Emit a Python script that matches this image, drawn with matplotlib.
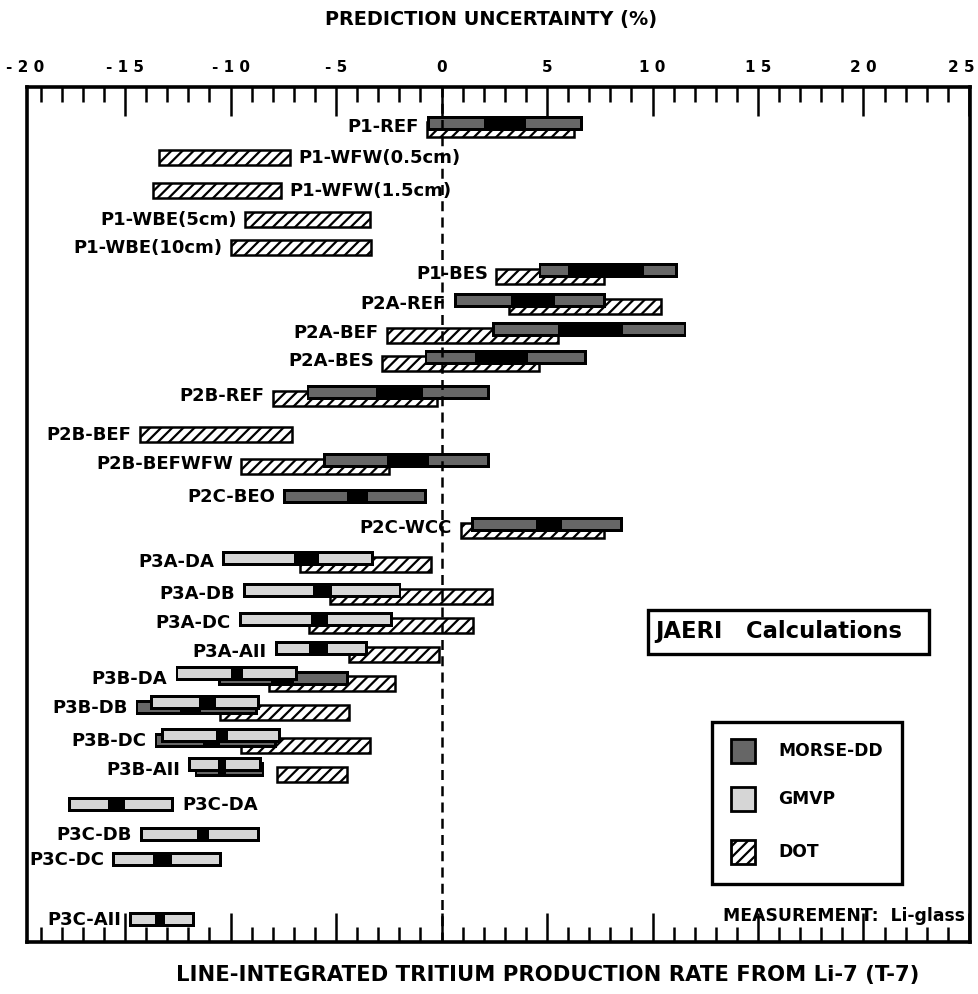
import matplotlib
matplotlib.use('Agg')
import matplotlib.pyplot as plt
import matplotlib.transforms as mtransforms
from matplotlib.patches import Rectangle

plt.rcParams['font.family'] = ['DejaVu Sans']
plt.rcParams['font.weight'] = 'bold'
plt.rcParams['hatch.linewidth'] = 1.6

# Casos (de arriba hacia abajo)
casos = ['P1-REF', 'P1-WFW(0.5cm)', 'P1-WFW(1.5cm)', 'P1-WBE(5cm)', 'P1-WBE(10cm)',
         'P1-BES', 'P2A-REF', 'P2A-BEF', 'P2A-BES', 'P2B-REF', 'P2B-BEF',
         'P2B-BEFWFW', 'P2C-BEO', 'P2C-WCC', 'P3A-DA', 'P3A-DB', 'P3A-DC',
         'P3A-AII', 'P3B-DA', 'P3B-DB', 'P3B-DC', 'P3B-AII', 'P3C-DA',
         'P3C-DB', 'P3C-DC', 'P3C-AII']

# MORSE-DD: (min, inicio zona negra, fin zona negra, max) en %
morse = [(-0.7, 2.0, 4.0, 6.7), None, None, None, None,
         (4.6, 6.0, 9.6, 11.2), (0.6, 3.3, 5.4, 7.8), (2.4, 5.5, 8.6, 11.6),
         (-0.8, 1.6, 4.1, 6.9), (-6.4, -3.1, -0.9, 2.3), None,
         (-5.6, -2.6, -0.6, 2.3), (-7.5, -4.5, -3.5, -0.7), (1.4, 4.5, 5.7, 8.6),
         None, None, None, None,
         (-10.6, -8.1, -7.0, -4.4), (-14.5, -12.4, -11.4, -8.7),
         (-13.6, -11.3, -10.5, -7.8), (-11.7, -10.6, -10.2, -8.4),
         None, None, None, None]

# GMVP: (min, inicio zona negra, fin zona negra, max) en %
gmvp = [None] * 14 + [
    (-10.4, -7.0, -5.8, -3.2), (-9.4, -6.1, -5.2, -1.9), (-9.6, -6.2, -5.4, -2.3),
    (-7.9, -6.3, -5.4, -3.5), (-12.6, -10.0, -9.4, -6.8), (-13.8, -11.5, -10.7, -8.6),
    (-13.3, -10.7, -10.1, -7.6), (-12.0, -10.6, -10.2, -8.5), (-17.7, -15.8, -15.0, -12.7),
    (-14.3, -11.6, -11.0, -8.6), (-15.6, -13.7, -12.8, -10.4), (-14.8, -13.6, -13.1, -11.7)]

# DOT: (min, max) en %
dot = [(-0.7, 6.3), (-13.4, -7.2), (-13.7, -7.6), (-9.3, -3.4), (-10.0, -3.35),
       (2.6, 7.7), (3.2, 10.4), (-2.6, 5.5), (-2.8, 4.6), (-8.0, -0.2), (-14.3, -7.1),
       (-9.5, -2.5), None, (0.9, 7.7), (-6.7, -0.5), (-5.3, 2.4), (-6.3, 1.5),
       (-4.4, -0.1), (-8.2, -2.2), (-10.5, -4.4), (-9.5, -3.4), (-7.8, -4.5),
       None, None, None, None]

# Lado de la etiqueta
lado = ['L', 'R', 'R'] + ['L'] * 19 + ['R', 'L', 'L', 'L']

# Posicion vertical de cada fila (unidades de pixel)
fila_y = [124, 158, 191, 220, 248, 271, 301, 330, 358, 393, 435, 461, 497, 525,
          559, 591, 620, 649, 674, 703, 736, 765, 805, 835, 860, 920]

ticks_mayores = [-15, -10, -5, 0, 5, 10, 15, 20, 25]
ticks_texto = ['- 1 5', '- 1 0', '- 5', '0', '5', '1 0', '1 5', '2 0', '2 5']

col_morse = '#666666'
col_gmvp = '#d6d6d6'
alto = 15


def barra_punteada(ax, y, v, color, z):
    lo, m1, m2, hi = v
    ax.barh(y, hi - lo, left=lo, height=alto, color='black', zorder=z)
    dx = 0.13
    ax.barh(y, m1 - lo - dx, left=lo + dx, height=alto - 6, color=color,
            linewidth=0, zorder=z + 0.1)
    ax.barh(y, hi - dx - m2, left=m2, height=alto - 6, color=color,
            linewidth=0, zorder=z + 0.1)


def barra_dot(ax, y, v, z):
    lo, hi = v
    ax.barh(y, hi - lo, left=lo, height=alto, color='white', edgecolor='black',
            hatch='///', linewidth=1.8, zorder=z)


fig = plt.figure(figsize=(9.79, 9.94), dpi=100)
ax = fig.add_axes([27 / 979, 52 / 994, 943 / 979, 855 / 994])
ax.set_xlim(-19.65, 25.05)
ax.set_ylim(942, 87)

for i, caso in enumerate(casos):
    grupo = []
    if gmvp[i] is not None:
        grupo.append(('g', gmvp[i]))
    if morse[i] is not None:
        grupo.append(('m', morse[i]))
    if dot[i] is not None:
        grupo.append(('d', dot[i]))
    paso = 5 if len(grupo) == 3 else 6
    y0 = fila_y[i]
    for k, (tipo, v) in enumerate(grupo):
        y = y0 + k * paso
        z = 5 - k
        if tipo == 'g':
            barra_punteada(ax, y, v, col_gmvp, z)
        elif tipo == 'm':
            barra_punteada(ax, y, v, col_morse, z)
        else:
            barra_dot(ax, y, v, z)
    xmin = min(v[0] for _, v in grupo)
    xmax = max(v[-1] for _, v in grupo)
    yc = y0 + (len(grupo) - 1) * paso / 2
    if lado[i] == 'L':
        ax.annotate(caso, (xmin, yc), xytext=(-6, 0), textcoords='offset points',
                    ha='right', va='center', fontsize=13, zorder=8)
    else:
        ax.annotate(caso, (xmax, yc), xytext=(6, 0), textcoords='offset points',
                    ha='left', va='center', fontsize=13, zorder=8)

ax.axvline(0, color='black', linestyle=(0, (4, 2.5)), linewidth=1.8, zorder=10)

# ejes
for s in ax.spines.values():
    s.set_linewidth(2.6)
ax.set_yticks([])
ax.set_xticks(ticks_mayores)
ax.set_xticklabels(ticks_texto, fontsize=11)
ax.set_xticks(range(-19, 26), minor=True)
ax.tick_params(axis='x', which='both', direction='in', top=True, bottom=True,
               labeltop=True, labelbottom=False, width=1.8, pad=9)
ax.tick_params(axis='x', which='major', length=21)
ax.tick_params(axis='x', which='minor', length=11)
# la etiqueta 25 queda pegada al borde derecho
ultimo = ax.xaxis.get_major_ticks()[-1].label2
ultimo.set_transform(ultimo.get_transform() +
                     mtransforms.ScaledTranslation(-0.08, 0, fig.dpi_scale_trans))
ax.text(-0.002, 1 + 12 / 855, '- 2 0', transform=ax.transAxes, ha='center',
        va='bottom', fontsize=11, clip_on=False)

# caja JAERI
ax.add_patch(Rectangle((0.6585, 0.3368), 0.298, 0.0515, transform=ax.transAxes,
                       facecolor='white', edgecolor='black', linewidth=2.4, zorder=12))
ax.text(0.666, 0.3626, 'JAERI   Calculations', transform=ax.transAxes,
        fontsize=16.3, va='center', ha='left', zorder=13)

# leyenda
ax.add_patch(Rectangle((0.7264, 0.0678), 0.2015, 0.1895, transform=ax.transAxes,
                       facecolor='white', edgecolor='black', linewidth=2.4, zorder=12))
leyenda = [('MORSE-DD', 0.2094, col_morse, None), ('GMVP', 0.1532, col_gmvp, None),
           ('DOT', 0.0912, 'white', '///')]
for nombre, yb, color, hatch in leyenda:
    ax.add_patch(Rectangle((0.7465, yb), 0.0255, 0.0281, transform=ax.transAxes,
                           facecolor=color, edgecolor='black', hatch=hatch,
                           linewidth=2, zorder=13))
    ax.text(0.7964, yb + 0.014, nombre, transform=ax.transAxes, fontsize=12.3,
            va='center', ha='left', zorder=13)

ax.text(0.995, 0.03, 'MEASUREMENT:  Li-glass', transform=ax.transAxes,
        fontsize=12.4, ha='right', va='center', zorder=13)

fig.text(0.502, 1 - 20 / 994, 'PREDICTION UNCERTAINTY (%)', ha='center',
         va='center', fontsize=13.9)
fig.text(0.559, 1 - 975 / 994, 'LINE-INTEGRATED TRITIUM PRODUCTION RATE FROM Li-7 (T-7)',
         ha='center', va='center', fontsize=15.2)

fig.savefig('out.png', dpi=100)
